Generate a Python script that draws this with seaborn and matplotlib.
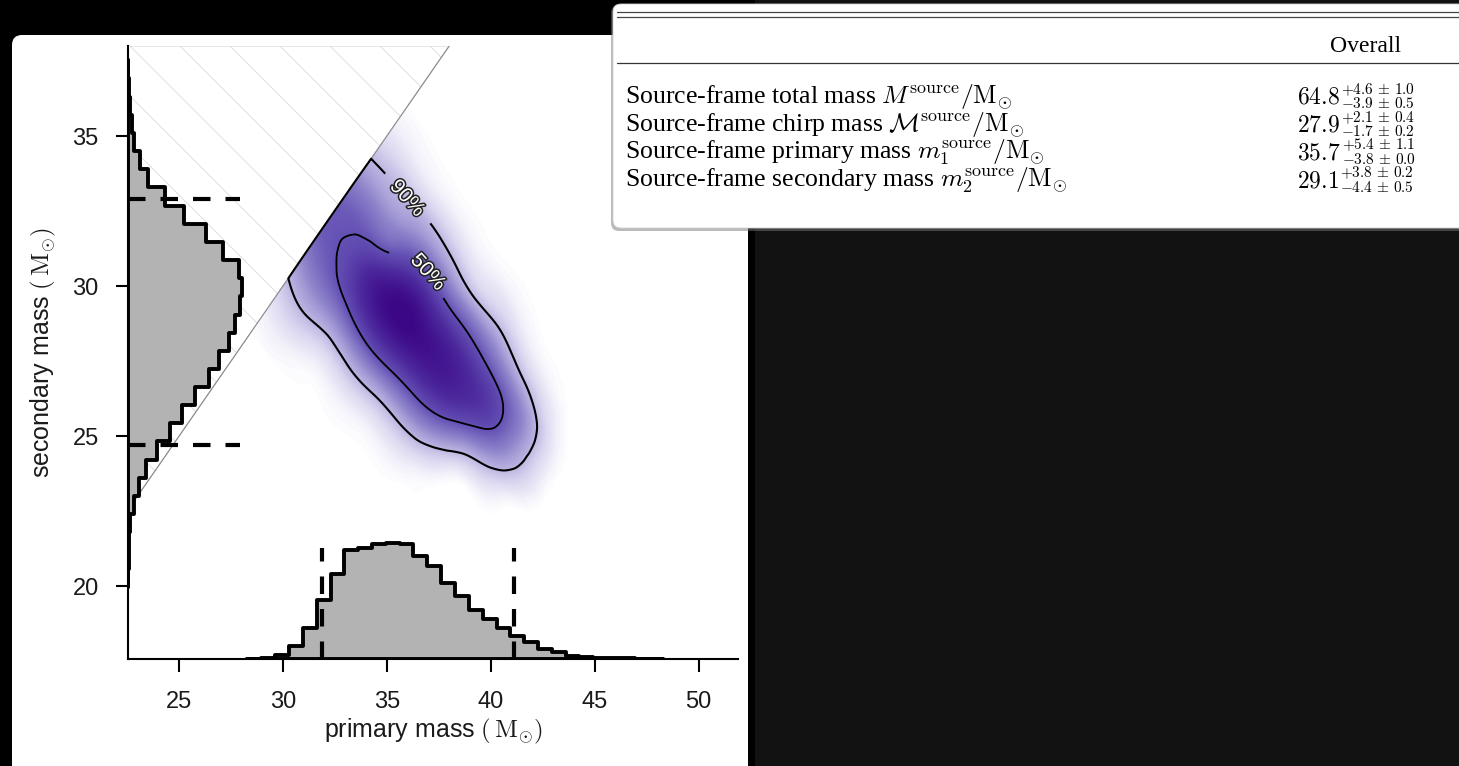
import numpy as np
import matplotlib
matplotlib.use("Agg")
import matplotlib.pyplot as plt
import matplotlib.tri as mtri
import matplotlib.patheffects as pe
from matplotlib.patches import FancyBboxPatch, Rectangle, Polygon
from matplotlib.lines import Line2D
from matplotlib.colors import LinearSegmentedColormap, Normalize
from matplotlib.transforms import IdentityTransform
import seaborn as sns

# ------------------------------------------------------------------ data
# marginal histogram of the primary mass (bin edges, relative counts)
m1_edges = [28.29, 28.96, 29.62, 30.29, 30.95, 31.62, 32.29, 32.95, 33.62, 34.28,
            34.95, 35.62, 36.28, 36.95, 37.61, 38.28, 38.95, 39.61, 40.28, 40.94,
            41.61, 42.28, 42.94, 43.61, 44.27, 44.94, 45.61, 46.27, 46.94, 47.60, 48.27]
m1_counts = [0.4, 1.0, 4.3, 13.3, 31, 59, 85, 109, 111, 115, 116, 115, 103, 93, 76,
             63, 49, 40, 30.5, 23, 17, 10, 6.7, 3.3, 2.0, 1.3, 1.0, 0.6, 0.4, 0.3]

# marginal histogram of the secondary mass
m2_edges = [19.98, 20.58, 21.19, 21.79, 22.40, 23.00, 23.61, 24.21, 24.82, 25.42,
            26.03, 26.63, 27.24, 27.84, 28.45, 29.05, 29.66, 30.26, 30.87, 31.47,
            32.08, 32.68, 33.29, 33.89, 34.50, 35.10, 35.71, 36.31, 36.92, 37.52]
m2_counts = [0.4, 0.8, 1.2, 2.7, 6, 11, 18.7, 29, 42.7, 54, 67.7, 81, 91, 101, 107.7,
             112.5, 114.3, 111, 95, 78, 56, 37, 20, 12, 6.7, 4.0, 2.0, 1.0, 0.3]

# joint density on a grid of total mass u = m1+m2 and difference v = m1-m2
u_grid = [57, 58, 59, 60, 61, 62, 63, 64, 65, 66, 67, 68, 69, 70, 71, 72]
v_grid = [0, 2, 4, 6, 8, 10, 12, 14, 16, 18, 20, 22]
density = [
    [0.4, 1.5, 4.0, 8.5, 16.0, 26.0, 36.0, 42.0, 42.0, 36.0, 26.0, 16.0, 8.5, 4.0, 1.5, 0.4],
    [0.5, 1.8, 5.0, 11.0, 20.5, 33.0, 44.0, 49.0, 47.0, 39.0, 27.5, 17.0, 10.5, 4.5, 1.5, 0.4],
    [0.1, 0.5, 2.1, 7.0, 18.2, 37.1, 59.7, 75.7, 72.0, 50.0, 33.0, 21.0, 12.5, 4.5, 1.2, 0.2],
    [0.1, 0.5, 2.1, 7.2, 19.6, 42.0, 70.9, 94.3, 98.9, 81.8, 55.0, 30.0, 14.0, 5.0, 1.2, 0.2],
    [0.0, 0.3, 1.3, 5.1, 15.2, 35.1, 63.2, 88.6, 96.7, 82.2, 54.4, 28.1, 11.3, 3.5, 0.9, 0.2],
    [0.0, 0.2, 1.0, 3.9, 11.9, 28.6, 53.4, 77.7, 88.0, 77.7, 53.4, 28.6, 10.0, 3.5, 1.0, 0.2],
    [0.0, 0.1, 0.4, 2.0, 7.0, 18.7, 38.5, 61.1, 74.4, 69.6, 50.1, 27.8, 11.8, 3.9, 1.0, 0.2],
    [0.0, 0.0, 0.0, 0.1, 0.7, 3.7, 13.2, 31.9, 52.0, 57.3, 42.8, 21.6, 7.4, 1.7, 0.3, 0.0],
    [0.0, 0.0, 0.0, 0.0, 0.0, 0.3, 4.0, 13.0, 25.0, 29.7, 25.5, 13.1, 4.1, 0.8, 0.1, 0.0],
    [0.0, 0.0, 0.0, 0.0, 0.0, 0.0, 0.2, 2.0, 6.0, 7.0, 6.0, 3.0, 0.8, 0.1, 0.0, 0.0],
    [0.0, 0.0, 0.0, 0.0, 0.0, 0.0, 0.0, 0.0, 0.0, 0.0, 0.0, 0.0, 0.0, 0.0, 0.0, 0.0],
    [0.0, 0.0, 0.0, 0.0, 0.0, 0.0, 0.0, 0.0, 0.0, 0.0, 0.0, 0.0, 0.0, 0.0, 0.0, 0.0],
]
contour_levels = [12, 45]
contour_names = ["90%", "50%"]

# summary table
param_labels = [
    r"Source-frame total mass $M^{\mathrm{source}}/\mathrm{M}_{\odot}$",
    r"Source-frame chirp mass $\mathcal{M}^{\mathrm{source}}/\mathrm{M}_{\odot}$",
    r"Source-frame primary mass $m_1^{\mathrm{source}}/\mathrm{M}_{\odot}$",
    r"Source-frame secondary mass $m_2^{\mathrm{source}}/\mathrm{M}_{\odot}$",
]
medians = [64.8, 27.9, 35.7, 29.1]
err_plus = [4.6, 2.1, 5.4, 3.8]
err_plus_sys = [1.0, 0.4, 1.1, 0.2]
err_minus = [3.9, 1.7, 3.8, 4.4]
err_minus_sys = [0.5, 0.2, 0.0, 0.5]
column_header = "Overall"

x_ticks = [25, 30, 35, 40, 45, 50]
y_ticks = [20, 25, 30, 35]
x_label = r"primary mass $(\,\mathrm{M}_{\odot})$"
y_label = r"secondary mass $(\,\mathrm{M}_{\odot})$"

# ------------------------------------------------------------------ style
sns.set_theme(style="ticks")
plt.rcParams["font.family"] = ["Liberation Sans", "DejaVu Sans"]
plt.rcParams["mathtext.fontset"] = "cm"

W, H = 1459, 766
fig = plt.figure(figsize=(W / 100, H / 100), dpi=100, facecolor="black")
PX = IdentityTransform()


def fy(y):
    return H - y


# background pieces
fig.add_artist(Rectangle((755, 0), W - 755, H, transform=PX, fc="#121212", ec="none", zorder=-6))
fig.add_artist(FancyBboxPatch((12, -30), 736, H - 35 + 30, boxstyle="round,pad=0,rounding_size=10",
                              transform=PX, fc="white", ec="none", zorder=-5))

# main axes (pixel box)
L, R, T, B = 127.8, 738.0, 46.0, 659.0
ax = fig.add_axes([L / W, (H - B) / H, (R - L) / W, (B - T) / H])
ax.set_facecolor("white")
x0, x1 = 22.53, 51.9
y0, y1 = 17.57, 38.0

# excluded region m2 > m1 with light hatching
tri_region = Polygon([(x0, x0), (x0, y1), (y1, y1)], closed=True, fc="none",
                     ec="#d4d4d4", lw=0.8, zorder=1)
ax.add_patch(tri_region)
ppx = (R - L) / (x1 - x0)
ppy = (B - T) / (y1 - y0)
step = 50 / ppx
start = x0 + (180 - L) / ppx
slope = ppx / ppy
for c in np.arange(start - 12 * step, y1 + step, step):
    xs = np.array([c, c + (y1 - y0) / slope])
    ys = y1 - slope * (xs - c)
    ln, = ax.plot(xs, ys, color="#dedede", lw=0.7, zorder=1)
    ln.set_clip_path(tri_region)

# joint density
U, V = np.meshgrid(np.array(u_grid, float), np.array(v_grid, float))
Z = np.array(density, float)
tri = mtri.Triangulation(U.ravel(), V.ravel())
interp = mtri.CubicTriInterpolator(tri, Z.ravel(), kind="min_E")
uf = np.linspace(u_grid[0] + 1e-4, u_grid[-1] - 1e-4, 361)
vf = np.linspace(1e-4, v_grid[-1] - 1e-4, 265)
UF, VF = np.meshgrid(uf, vf)
ZF = np.clip(np.ma.filled(interp(UF, VF), 0.0), 0, None)
ZF[ZF < 0.4] = 0.0
VF = np.vstack([np.full((1, uf.size), -0.03), VF])
UF = np.vstack([uf[None, :], UF])
ZF = np.vstack([np.zeros((1, uf.size)), ZF])
M1 = (UF + VF) / 2
M2 = (UF - VF) / 2

cmap = LinearSegmentedColormap.from_list(
    "gw", [(0, (1, 1, 1, 0)), (0.03, "#e9e6f6"), (0.12, "#bdb6e2"), (0.25, "#9086cc"),
           (0.45, "#6450b4"), (0.7, "#4d2a9e"), (1.0, "#3c0786")])
ax.pcolormesh(M1, M2, ZF, shading="gouraud", cmap=cmap, norm=Normalize(0, 100), zorder=3)
ax.plot([x0, y1], [x0, y1], color="#8a8a8a", lw=0.8, zorder=3.5)
cs = ax.contour(M1, M2, ZF, levels=contour_levels, colors="black", linewidths=[1.5, 1.3], zorder=4)
lbls = ax.clabel(cs, fmt=dict(zip(contour_levels, contour_names)), inline=True, inline_spacing=4,
                 fontsize=15, manual=[(36.13, 32.93), (37.19, 30.47)])
for t in lbls:
    t.set_rotation(-48)
    t.set_color("white")
    t.set_path_effects([pe.withStroke(linewidth=2.2, foreground="#222222")])

# credible intervals from the table (primary = row 2, secondary = row 3)
m1_lo, m1_hi = medians[2] - err_minus[2], medians[2] + err_plus[2]
m2_lo, m2_hi = medians[3] - err_minus[3], medians[3] + err_plus[3]

hist_kw = dict(element="step", fill=True, color="#b3b3b3", edgecolor="black",
               linewidth=2.8, alpha=1)

# bottom marginal
m1_c = (np.array(m1_edges[:-1]) + np.array(m1_edges[1:])) / 2
axb = ax.twinx()
sns.histplot(x=m1_c, weights=m1_counts, bins=m1_edges, ax=axb, **hist_kw)
axb.vlines([m1_lo, m1_hi], 0, 0.96 * max(m1_counts), colors="black", lw=3,
           linestyles=(0, (4.2, 3.6)))
axb.set_ylim(0, max(m1_counts) * 5.28)
axb.set_axis_off()

# left marginal
m2_c = (np.array(m2_edges[:-1]) + np.array(m2_edges[1:])) / 2
axl = ax.twiny()
sns.histplot(y=m2_c, weights=m2_counts, bins=m2_edges, ax=axl, **hist_kw)
axl.hlines([m2_lo, m2_hi], 0, 0.98 * max(m2_counts), colors="black", lw=3,
           linestyles=(0, (4.2, 3.6)))
axl.set_xlim(0, max(m2_counts) * 5.35)
axl.set_axis_off()

ax.set_xlim(x0, x1)
ax.set_ylim(y0, y1)
ax.set_xticks(x_ticks)
ax.set_yticks(y_ticks)
for s in ["top", "right"]:
    ax.spines[s].set_visible(False)
for s in ["left", "bottom"]:
    ax.spines[s].set_color("black")
    ax.spines[s].set_linewidth(1.5)
ax.tick_params(axis="both", direction="out", length=9, width=1.5, color="black",
               labelsize=17, labelcolor="#1a1a1a")
ax.tick_params(axis="x", pad=14)
ax.tick_params(axis="y", pad=12)
ax.set_xlabel(x_label, fontsize=18, color="#1a1a1a", labelpad=3)
ax.set_ylabel(y_label, fontsize=18, color="#1a1a1a", labelpad=10)

# ------------------------------------------------------------------ table panel
fig.add_artist(FancyBboxPatch((611, fy(231)), W - 611 + 30, 226, boxstyle="round,pad=0,rounding_size=8",
                              transform=PX, fc="#777777", ec="none", alpha=0.5, zorder=5))
fig.add_artist(FancyBboxPatch((613, fy(228)), W - 613 + 30, 224, boxstyle="round,pad=0,rounding_size=8",
                              transform=PX, fc="white", ec="#d0d0d0", lw=0.6, zorder=5.1))
for yy in (12, 16.5):
    fig.add_artist(Line2D([617, W], [fy(yy), fy(yy)], transform=PX, color="#444444", lw=0.9, zorder=6))
fig.add_artist(Line2D([617, W], [fy(63), fy(63)], transform=PX, color="#333333", lw=0.9, zorder=6))
fig.text(1366 / W, fy(47) / H, column_header, ha="center", va="center", fontsize=17,
         family=["Liberation Serif", "DejaVu Serif"], color="black", zorder=7)

renderer = fig.canvas.get_renderer()
row_y = [97, 125, 152, 180]
for lab, med, ep, eps, em, ems, yy in zip(param_labels, medians, err_plus, err_plus_sys,
                                          err_minus, err_minus_sys, row_y):
    fig.text(625 / W, fy(yy) / H, lab, ha="left", va="center", fontsize=18.5,
             family=["Liberation Serif", "DejaVu Serif"], color="black", zorder=7)
    main = fig.text(1297 / W, fy(yy + 1) / H, r"$%.1f$" % med, ha="left", va="center",
                    fontsize=17, color="black", zorder=7)
    xe = main.get_window_extent(renderer).x1 + 1
    fig.text(xe / W, fy(yy - 7) / H, r"$+%.1f\,\pm\,%.1f$" % (ep, eps), ha="left",
             va="center", fontsize=11, color="black", zorder=7)
    fig.text(xe / W, fy(yy + 7) / H, r"$-%.1f\,\pm\,%.1f$" % (em, ems), ha="left",
             va="center", fontsize=11, color="black", zorder=7)

fig.savefig("out.png", dpi=100, facecolor=fig.get_facecolor())
